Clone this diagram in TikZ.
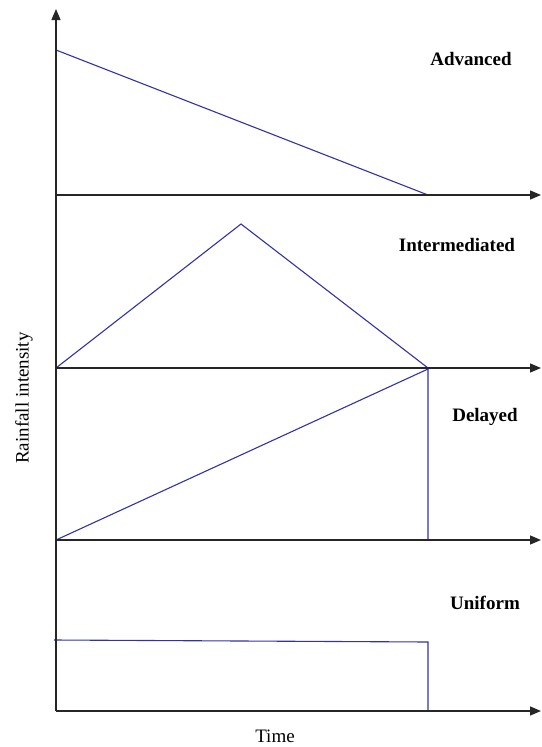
\documentclass[tikz,border=0pt]{standalone}
\usepackage{fontspec}
\setmainfont{Liberation Serif}
\usetikzlibrary{arrows.meta,positioning}
\definecolor{rainblue}{RGB}{50,50,165}
\begin{document}
\begin{tikzpicture}[x=1pt,y=-1pt]
\tikzstyle{axis}=[line width=1.4pt, black!85, -{Triangle[length=11pt,width=9pt]}]
\tikzstyle{hyeto}=[line width=1.1pt, rainblue]
\tikzstyle{kind}=[font=\fontsize{19}{22}\selectfont\bfseries, inner sep=0pt]
\tikzstyle{axlabel}=[font=\fontsize{19}{22}\selectfont, inner sep=0pt]
\useasboundingbox (0,0) rectangle (541,747);
% origin and axis ends
\coordinate (O) at (56,711);
\coordinate (Ytop) at (56,9);
\coordinate (A0) at (56,195);
\coordinate (I0) at (56,368);
\coordinate (D0) at (56,540);
\coordinate (U0) at (56,711);
\coordinate (A1) at (541,195);
\coordinate (I1) at (541,368);
\coordinate (D1) at (541,540);
\coordinate (U1) at (541,711);
% hyetograph corners
\coordinate (Apk) at (56,50);
\coordinate (Aend) at (428,195);
\coordinate (Ipk) at (241,224);
\coordinate (Iend) at (428,368);
\coordinate (Dpk) at (428,369);
\coordinate (Dend) at (428,540);
\coordinate (Ul) at (54,640);
\coordinate (Ur) at (428,642);
\coordinate (Uend) at (428,711);
% curves
\draw[hyeto] (A0) -- (Apk) -- (Aend);
\draw[hyeto] (I0) -- (Ipk) -- (Iend);
\draw[hyeto] (D0) -- (Dpk) -- (Dend);
\draw[hyeto] (Ul) -- (Ur) -- (Uend);
% axes
\draw[axis] (O) -- (Ytop);
\draw[axis] (A0) -- (A1);
\draw[axis] (I0) -- (I1);
\draw[axis] (D0) -- (D1);
\draw[axis] (U0) -- (U1);
% labels
\node[kind](adv) at (471,59) {Advanced};
\node[kind](inter) at (457,245) {Intermediated};
\node[kind](del) at (485,417) {Delayed};
\node[kind](uni) at (485,603) {Uniform};
\node[axlabel, rotate=90](yl) at (24,398) {Rainfall intensity};
\node[axlabel](xl) at (275,736) {Time};
\end{tikzpicture}
\end{document}
